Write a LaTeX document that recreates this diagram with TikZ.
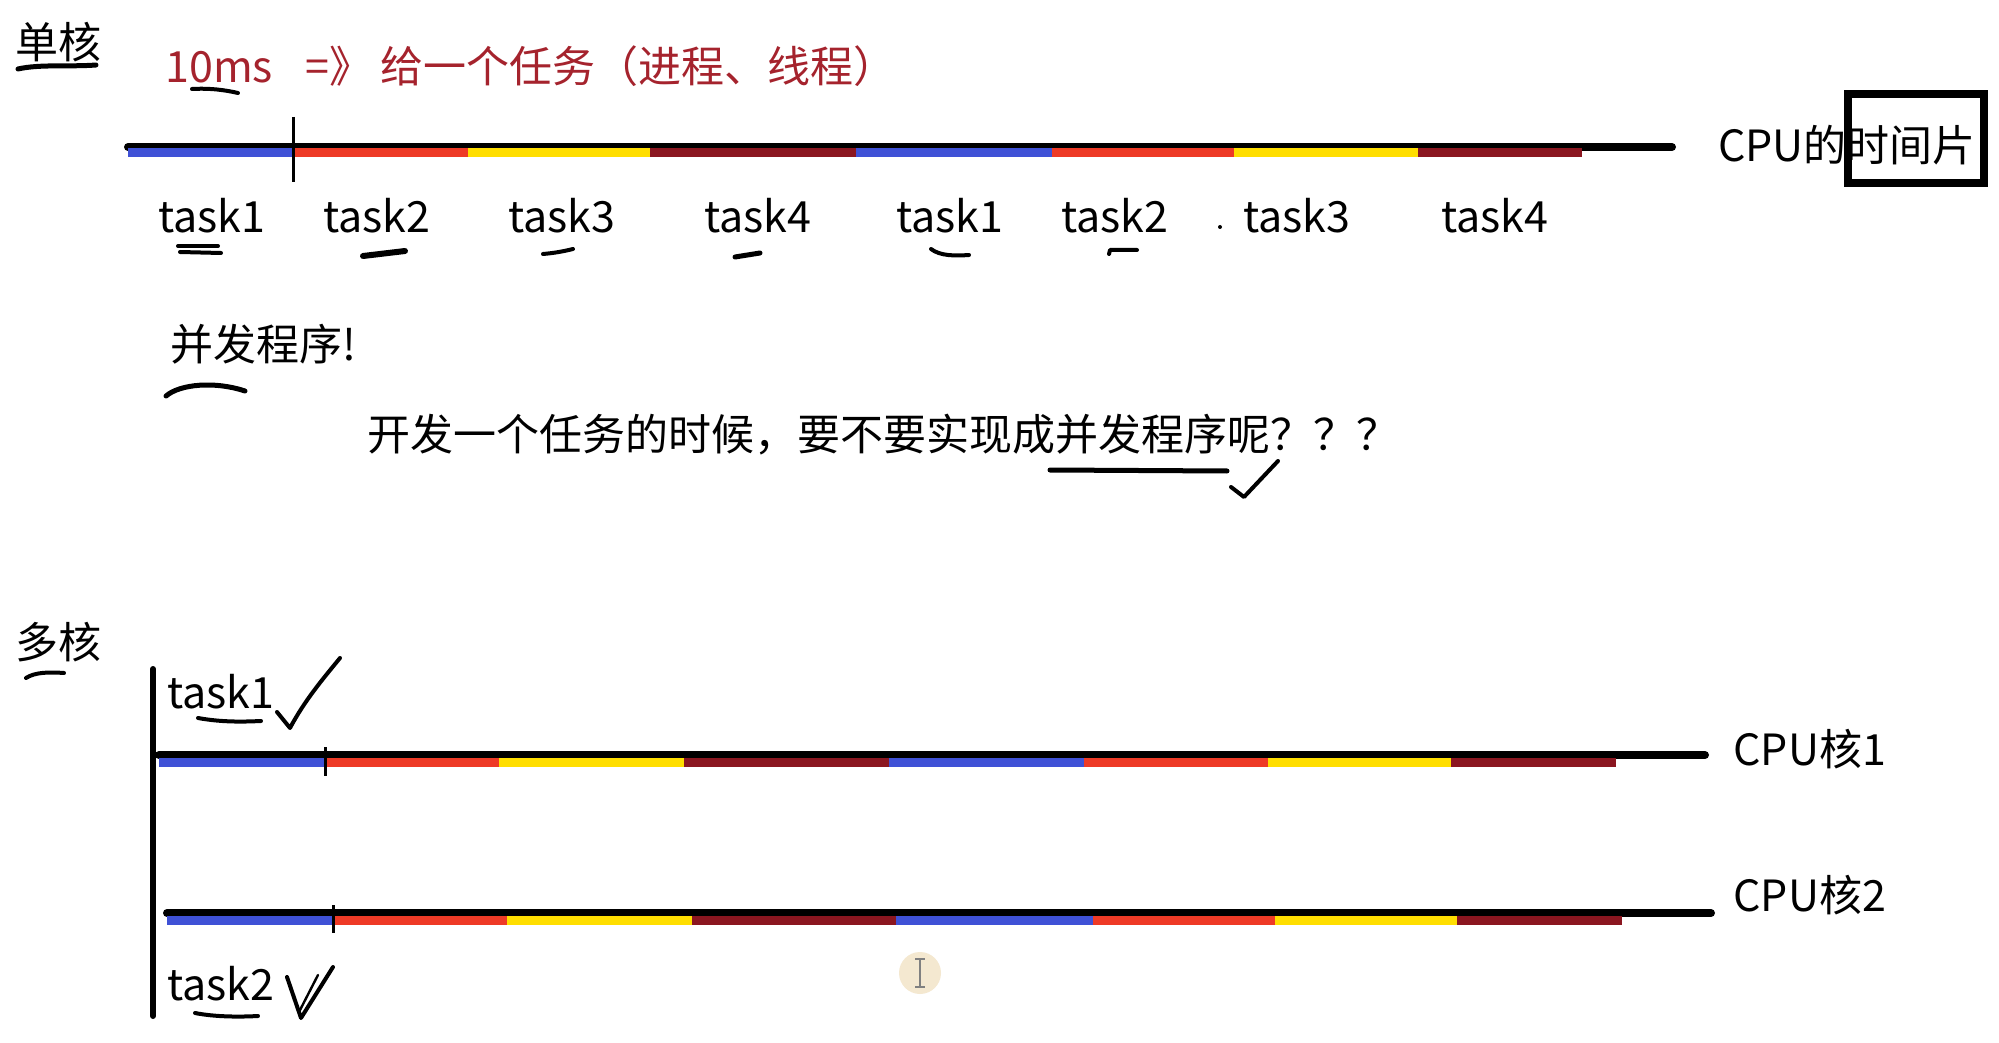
\documentclass[tikz,border=0pt]{standalone}
\usepackage{fontspec}
\setmainfont{Noto Sans CJK SC}
\definecolor{tblue}{RGB}{63,81,214}
\definecolor{tred}{RGB}{238,58,38}
\definecolor{tyellow}{RGB}{255,222,0}
\definecolor{tdark}{RGB}{139,22,32}
\definecolor{ttext}{RGB}{165,35,45}
\definecolor{cursorfill}{RGB}{243,228,200}
\tikzset{
  lbl/.style={inner sep=0pt, font=\fontsize{21.5pt}{26pt}\selectfont},
  blackbar/.style={line width=4pt, line cap=round},
  seg/.style={line width=4.5pt},
  tickmark/.style={line width=1.5pt},
  ink/.style={line width=2pt, line cap=round, line join=round},
}
\begin{document}
\begin{tikzpicture}[x=0.5pt,y=-0.5pt]
\useasboundingbox[fill=white] (0,0) rectangle (1999,1043);

% ---------- single core ----------
\node[lbl] (dan) at (59,42) {单核};
\node[lbl, anchor=west, text=ttext] (ms) at (165,66) {10ms\hspace{0.75em}=》\hspace{0.2em}给一个任务（进程、线程）};

\coordinate (a0) at (128,147);
\coordinate (a1) at (1672,147);
\draw[blackbar] (a0) -- (a1);
\foreach \s/\e/\c in {128/293/tblue,293/468/tred,468/650/tyellow,650/856/tdark,856/1052/tblue,1052/1234/tred,1234/1418/tyellow,1418/1582/tdark}
  \draw[seg,\c] (\s,152.5) -- (\e,152.5);
\draw[tickmark] (293,117) -- (293,182);

\foreach \n/\x/\t in {t1/212/task1,t2/377/task2,t3/562/task3,t4/758/task4,t5/950/task1,t6/1115/task2,t7/1297/task3,t8/1495/task4}
  \node[lbl] (\n) at (\x,216) {\t};
\fill (1220,227) circle (2);

\node[lbl] (cpu) at (1847,145) {CPU的时间片};
\node[draw, line width=4pt, minimum width=136pt*0.5, minimum height=89pt*0.5, inner sep=0pt] (slice) at (1916,138.5) {};

% hand marks (single core)
\draw[ink, line width=2.5pt] (18,69) .. controls (40,64) and (70,67) .. (96,65);
\draw[ink] (192,89) .. controls (210,88) and (225,90) .. (238,93);
\draw[ink] (178,246) -- (218,246);
\draw[ink] (180,252) -- (221,253);
\draw[ink, line width=3pt] (363,256) -- (405,251);
\draw[ink] (543,254) .. controls (555,253) and (565,251) .. (573,249);
\draw[ink, line width=2.5pt] (735,257) -- (760,253);
\draw[ink] (931,249) .. controls (940,256) and (955,256) .. (969,255);
\draw[ink] (1109,254) -- (1110,250) -- (1137,250);

% ---------- concurrency ----------
\node[lbl, anchor=west] (bf) at (170,344) {并发程序!};
\draw[ink, line width=2.5pt] (166,396) .. controls (180,384) and (215,381) .. (245,391);
\node[lbl, anchor=west] (q) at (367,435) {开发一个任务的时候，要不要实现成并发程序呢？？？};
\draw[ink, line width=2.5pt] (1050,470) -- (1227,471);
\draw[ink] (1231,487) -- (1244,497) -- (1278,461);

% ---------- multi core ----------
\node[lbl] (duo) at (59,642) {多核};
\draw[ink] (26,678) .. controls (35,672) and (50,672) .. (64,673);
\draw[line width=3pt, line cap=round] (153,669) -- (153,1016);

\node[lbl, anchor=west] (m1) at (167,692) {task1};
\draw[ink] (198,718) .. controls (220,722) and (240,722) .. (261,721);
\draw[ink] (277,712) -- (290,728) .. controls (305,700) and (322,680) .. (340,658);

\coordinate (b0) at (159,755);
\coordinate (b1) at (1705,755);
\draw[blackbar] (b0) -- (b1);
\foreach \s/\e/\c in {159/325/tblue,325/499/tred,499/684/tyellow,684/889/tdark,889/1084/tblue,1084/1268/tred,1268/1451/tyellow,1451/1616/tdark}
  \draw[seg,\c] (\s,762) -- (\e,762);
\draw[tickmark] (325,747) -- (325,776);
\node[lbl, anchor=west] (c1) at (1733,749) {CPU核1};

\coordinate (d0) at (167,913);
\coordinate (d1) at (1711,913);
\draw[blackbar] (d0) -- (d1);
\foreach \s/\e/\c in {167/334/tblue,334/507/tred,507/692/tyellow,692/896/tdark,896/1093/tblue,1093/1275/tred,1275/1457/tyellow,1457/1622/tdark}
  \draw[seg,\c] (\s,920) -- (\e,920);
\draw[tickmark] (333,905) -- (333,933);
\node[lbl, anchor=west] (c2) at (1733,895) {CPU核2};

\node[lbl, anchor=west] (m2) at (167,984) {task2};
\draw[ink] (195,1013) .. controls (215,1017) and (240,1017) .. (258,1016);
\draw[ink] (287,977) -- (301,1018) -- (333,967);
\draw[ink, line width=1.2pt] (299,1012) -- (318,975);

% cursor highlight
\fill[cursorfill, opacity=0.85] (920,973) circle (21);
\draw[gray, line width=0.8pt] (920,959) -- (920,987) (915,959) -- (925,959) (915,987) -- (925,987);
\end{tikzpicture}
\end{document}
